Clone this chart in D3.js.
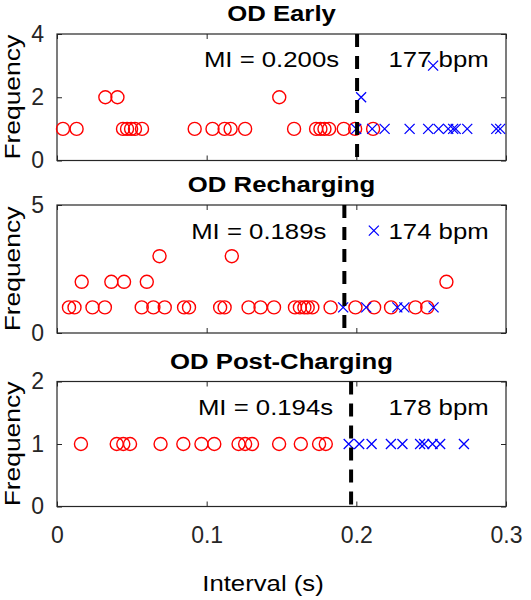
<!DOCTYPE html>
<html><head><meta charset="utf-8">
<script src="https://cdn.jsdelivr.net/npm/d3@7"></script>
<style>body{margin:0;background:#fff}svg{display:block}</style>
</head><body><div id="chart"></div>
<script>
// ---------- data ----------
const titles = ["OD Early", "OD Recharging", "OD Post-Charging"];
const miLabels = ["MI = 0.200s", "MI = 0.189s", "MI = 0.194s"];
const bpmLabels = ["177 bpm", "174 bpm", "178 bpm"];
const miLinePos = [0.2005, 0.192, 0.1965];
const yMaxes = [4, 5, 2];
const yTickVals = [[0, 2, 4], [0, 5], [0, 1, 2]];
const xTickVals = [0, 0.1, 0.2, 0.3];
const xLabel = "Interval (s)";
const yLabel = "Frequency";

// [interval (s), frequency]
const earlyCircles = [
  [0.0040,1],[0.0131,1],[0.0441,1],[0.0468,1],[0.0495,1],[0.0521,1],[0.0568,1],
  [0.0920,1],[0.1039,1],[0.1120,1],[0.1160,1],[0.1257,1],[0.1584,1],[0.1731,1],
  [0.1760,1],[0.1787,1],[0.1818,1],[0.1916,1],[0.1992,1],[0.2112,1],
  [0.0323,2],[0.0404,2],[0.1485,2]
];
const earlyCrosses = [
  [0.1999,1],[0.2106,1],[0.2189,1],[0.2356,1],[0.2480,1],[0.2550,1],[0.2614,1],
  [0.2647,1],[0.2664,1],[0.2741,1],[0.2935,1],[0.2961,1],[0.2032,2],[0.2513,3]
];
const rechargingCircles = [
  [0.0080,1],[0.0117,1],[0.0237,1],[0.0320,1],[0.0566,1],[0.0644,1],[0.0720,1],
  [0.0849,1],[0.0882,1],[0.1090,1],[0.1120,1],[0.1280,1],[0.1360,1],[0.1450,1],
  [0.1590,1],[0.1623,1],[0.1653,1],[0.1675,1],[0.1706,1],[0.1828,1],[0.1994,1],
  [0.2119,1],[0.2232,1],[0.2395,1],[0.2474,1],
  [0.0165,2],[0.0363,2],[0.0448,2],[0.0600,2],[0.2602,2],
  [0.0685,3],[0.1168,3]
];
const rechargingCrosses = [
  [0.1912,1],[0.2066,1],[0.2274,1],[0.2321,1],[0.2516,1],[0.2117,4]
];
const postCircles = [
  [0.0160,1],[0.0399,1],[0.0443,1],[0.0488,1],[0.0692,1],[0.0844,1],[0.0965,1],
  [0.1051,1],[0.1213,1],[0.1257,1],[0.1303,1],[0.1484,1],[0.1629,1],[0.1751,1],[0.1796,1]
];
const postCrosses = [
  [0.1949,1],[0.2019,1],[0.2102,1],[0.2231,1],[0.2308,1],[0.2426,1],[0.2453,1],
  [0.2509,1],[0.2560,1],[0.2719,1]
];
const circleSets = [earlyCircles, rechargingCircles, postCircles];
const crossSets = [earlyCrosses, rechargingCrosses, postCrosses];

// ---------- layout ----------
const W = 531, H = 600;
const left = 57, right = 506;
const panelTops = [34, 205, 381.5];
const panelHeights = [126.5, 128, 125];
const FONT = "'Liberation Sans', Arial, Helvetica, sans-serif";
const STRETCH = 1.17;
const axisColor = "#262626";

const svg = d3.select("#chart").append("svg").attr("width", W).attr("height", H);
const x = d3.scaleLinear().domain([0, 0.3]).range([left, right]);

function stretchedText(g, str, px, py, opts = {}) {
  const t = g.append("text")
    .attr("transform", `translate(${px},${py})` + (opts.rotate ? ` rotate(${opts.rotate})` : "") + ` scale(${opts.sx || STRETCH},1)`)
    .attr("font-family", FONT)
    .attr("font-size", opts.size || 22)
    .attr("font-weight", opts.bold ? "bold" : "normal")
    .attr("text-anchor", opts.anchor || "middle")
    .attr("fill", opts.fill || "#000")
    .text(str);
  return t;
}

titles.forEach((title, i) => {
  const top = panelTops[i], h = panelHeights[i], bottom = top + h;
  const y = d3.scaleLinear().domain([0, yMaxes[i]]).range([bottom, top]);
  const g = svg.append("g");
  const isLast = i === titles.length - 1;

  // axes with inward ticks
  const styleAxis = sel => {
    sel.select(".domain").remove();
    sel.selectAll("line").attr("stroke", axisColor).attr("stroke-width", 1);
    sel.selectAll("text").attr("font-family", FONT).attr("font-size", 23).attr("fill", axisColor);
  };
  g.append("g").attr("transform", `translate(0,${bottom})`)
    .call(d3.axisBottom(x).tickValues(xTickVals).tickSize(-5).tickPadding(20)
      .tickFormat(isLast ? d3.format("") : () => ""))
    .call(styleAxis);
  g.append("g").attr("transform", `translate(0,${top})`)
    .call(d3.axisTop(x).tickValues(xTickVals).tickSize(-5).tickFormat(() => ""))
    .call(styleAxis);
  g.append("g").attr("transform", `translate(${left},0)`)
    .call(d3.axisLeft(y).tickValues(yTickVals[i]).tickSize(-5).tickPadding(13).tickFormat(d3.format("")))
    .call(styleAxis);
  g.append("g").attr("transform", `translate(${right},0)`)
    .call(d3.axisRight(y).tickValues(yTickVals[i]).tickSize(-5).tickFormat(() => ""))
    .call(styleAxis);

  // box
  g.append("rect").attr("x", left).attr("y", top).attr("width", right - left).attr("height", h)
    .attr("fill", "none").attr("stroke", axisColor).attr("stroke-width", 1.2);

  // circles
  g.append("g").selectAll("circle").data(circleSets[i]).join("circle")
    .attr("cx", d => x(d[0])).attr("cy", d => y(d[1])).attr("r", 6.5)
    .attr("fill", "none").attr("stroke", "#ff0000").attr("stroke-width", 1.4);

  // crosses
  const cs = 5;
  g.append("g").selectAll("path").data(crossSets[i]).join("path")
    .attr("d", d => {
      const cx = x(d[0]), cy = y(d[1]);
      return `M${cx - cs},${cy - cs}L${cx + cs},${cy + cs}M${cx - cs},${cy + cs}L${cx + cs},${cy - cs}`;
    })
    .attr("fill", "none").attr("stroke", "#0000ff").attr("stroke-width", 1.3);

  // MI dashed line
  g.append("line").attr("x1", x(miLinePos[i])).attr("x2", x(miLinePos[i]))
    .attr("y1", top).attr("y2", bottom)
    .attr("stroke", "#000").attr("stroke-width", 4).attr("stroke-dasharray", "13,9");

  // texts
  const textY = y(yMaxes[i] * 0.8) + 8;
  stretchedText(g, miLabels[i], x(miLinePos[i]) - 18, textY, { anchor: "end" });
  stretchedText(g, bpmLabels[i], x(0.2215), textY, { anchor: "start" });
  stretchedText(g, titles[i], (left + right) / 2, top - 13, { bold: true });
  stretchedText(g, yLabel, 20, (top + bottom) / 2, { rotate: -90, sx: 1.2 });
});

stretchedText(svg, xLabel, 263, 591, {});
</script></body></html>
